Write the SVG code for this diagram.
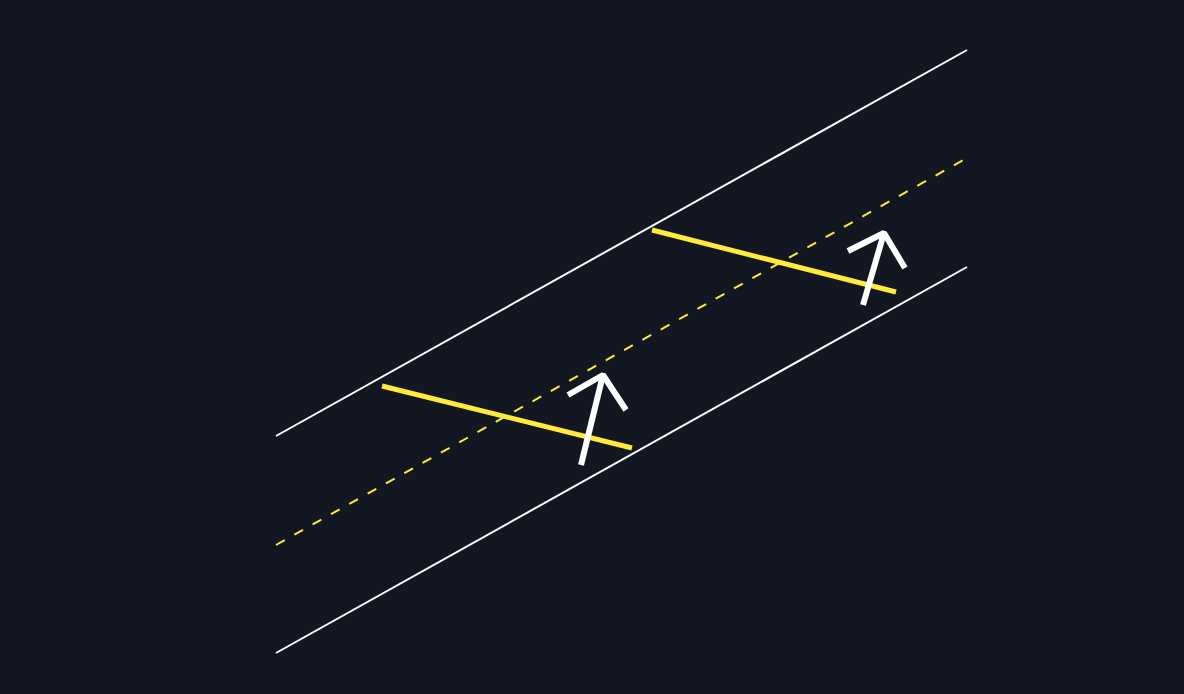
<svg xmlns="http://www.w3.org/2000/svg" width="1184" height="694" viewBox="0 0 1184 694">
<style>
.rail{stroke:#ffffff;stroke-width:2;fill:none}
.mid{stroke:#ffeb3b;stroke-width:2;stroke-dasharray:10 11;fill:none}
.seg{stroke:#ffeb3b;stroke-width:5;fill:none}
.arr{stroke:#ffffff;stroke-width:6;fill:none;stroke-linejoin:bevel}
</style>
<rect width="1184" height="694" fill="#131722"/>
<g id="connectors">
<line class="rail" x1="276" y1="436" x2="967" y2="50"/>
<line class="rail" x1="276" y1="653" x2="967" y2="267"/>
<line class="mid" x1="276" y1="545" x2="967" y2="158"/>
</g>
<g id="segment1"><line class="seg" x1="382" y1="386" x2="632" y2="448"/></g>
<g id="segment2"><line class="seg" x1="652" y1="230" x2="896" y2="292"/></g>
<g id="arrow1">
<line class="arr" x1="581" y1="465" x2="603" y2="375"/>
<polyline class="arr" points="568,395 603,375 626,410"/>
</g>
<g id="arrow2">
<line class="arr" x1="863" y1="305" x2="884" y2="233"/>
<polyline class="arr" points="848,251 884,233 905,268"/>
</g>
</svg>
